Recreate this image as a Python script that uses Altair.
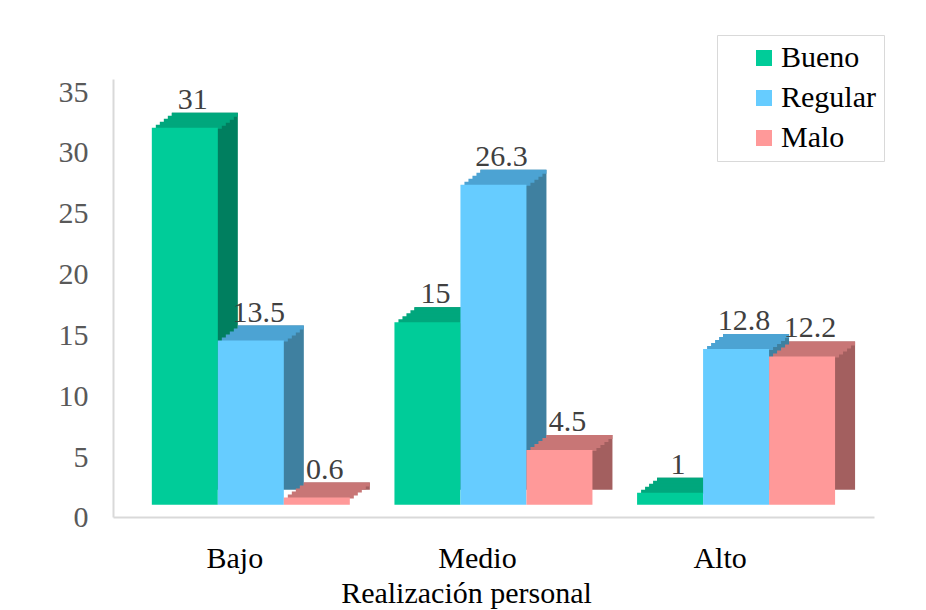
import altair as alt
import pandas as pd

areas = ["Bajo", "Medio", "Alto"]
series = ["Bueno", "Regular", "Malo"]
bueno = [31, 15, 1]
regular = [13.5, 26.3, 12.8]
malo = [0.6, 4.5, 12.2]
y_ticks = [0, 5, 10, 15, 20, 25, 30, 35]

front_colors = ["#00CC99", "#66CCFF", "#FF9999"]
top_colors = ["#00A77D", "#4CA3D3", "#C87676"]
side_colors = ["#007F5F", "#3F80A0", "#A35F5F"]

rows = []
for i, a in enumerate(areas):
    for s, vals in zip(series, [bueno, regular, malo]):
        rows.append({"Area": a, "Series": s, "Value": vals[i], "Label": f"{vals[i]:g}"})
df = pd.DataFrame(rows)

FONT = "Liberation Serif"
GROUP = 198  # pixel width of the three front faces of one group
DEPTH_X, DEPTH_Y, STEPS = 20, 15, 5

x_enc = alt.X(
    "Area:N", sort=areas,
    scale=alt.Scale(paddingInner=0.1835, paddingOuter=0.16),
    axis=alt.Axis(
        labelAngle=0, labelPadding=26, labelOffset=-16, labelFont=FONT,
        labelFontSize=30, labelColor="black", ticks=False,
        domainColor="#D9D9D9", domainWidth=2,
        title="Realización personal", titleFont=FONT, titleFontSize=30,
        titleFontWeight="normal", titleColor="black",
        titleX=353, titleY=85, titleAlign="center", titleBaseline="alphabetic",
    ),
)


def xo(shift):
    return alt.XOffset(
        "Series:N", sort=series,
        scale=alt.Scale(type="band", domain=series, range=[shift, shift + GROUP],
                        paddingInner=0, paddingOuter=0),
    )


y_enc = alt.Y(
    "Value:Q",
    scale=alt.Scale(domain=[-1, 35], nice=False),
    axis=alt.Axis(
        values=y_ticks, labelFont=FONT, labelFontSize=30, labelColor="#595959",
        labelPadding=25, labelOffset=13, ticks=False, grid=False, title=None,
        domainColor="#D9D9D9", domainWidth=2,
    ),
)

base = alt.Chart(df)

# right-hand side faces of the 3D bars
side = base.mark_bar(yOffset=-DEPTH_Y, y2Offset=-8).encode(
    x=x_enc, xOffset=xo(DEPTH_X), y=y_enc,
    color=alt.Color("Series:N", scale=alt.Scale(domain=series, range=side_colors), legend=None),
)

# top faces, built from thin slanted strips (each overlaps the next by 1px)
sx = DEPTH_X / STEPS
sy = DEPTH_Y / STEPS
tops = []
for k in range(STEPS, 0, -1):
    tops.append(
        base.mark_bar(yOffset=-sy * k, y2Offset=-sy * (k - 1) + 1).encode(
            x=x_enc, xOffset=xo(sx * k), y=y_enc, y2="Value:Q",
            color=alt.Color("Series:N", scale=alt.Scale(domain=series, range=top_colors), legend=None),
        )
    )

front = base.mark_bar().encode(
    x=x_enc, xOffset=xo(0), y=y_enc,
    color=alt.Color(
        "Series:N", sort=series,
        scale=alt.Scale(domain=series, range=front_colors),
        legend=alt.Legend(
            title=None, orient="none", legendX=604, legendY=-44,
            symbolType="square", symbolSize=256, symbolStrokeWidth=0,
            labelFont=FONT, labelFontSize=30, labelColor="black",
            strokeColor="#D9D9D9", fillColor="white", padding=8,
            rowPadding=10, labelOffset=2, symbolOffset=24,
        ),
    ),
)

text = base.mark_text(
    dx=8, dy=-19, baseline="alphabetic", align="center",
    font=FONT, fontSize=30, color="#404040",
).encode(x=x_enc, xOffset=xo(0), y=y_enc, text="Label:N")

chart = (
    alt.layer(side, *tops, front, text)
    .resolve_scale(color="independent", xOffset="independent")
    .properties(
        width=761, height=438,
        autosize=alt.AutoSizeParams(type="none"),
        padding={"left": 113, "top": 79, "right": 52, "bottom": 93},
        background="white",
    )
    .configure_view(stroke=None)
)

chart.save("out.html", embed_options={"renderer": "svg", "actions": False})
